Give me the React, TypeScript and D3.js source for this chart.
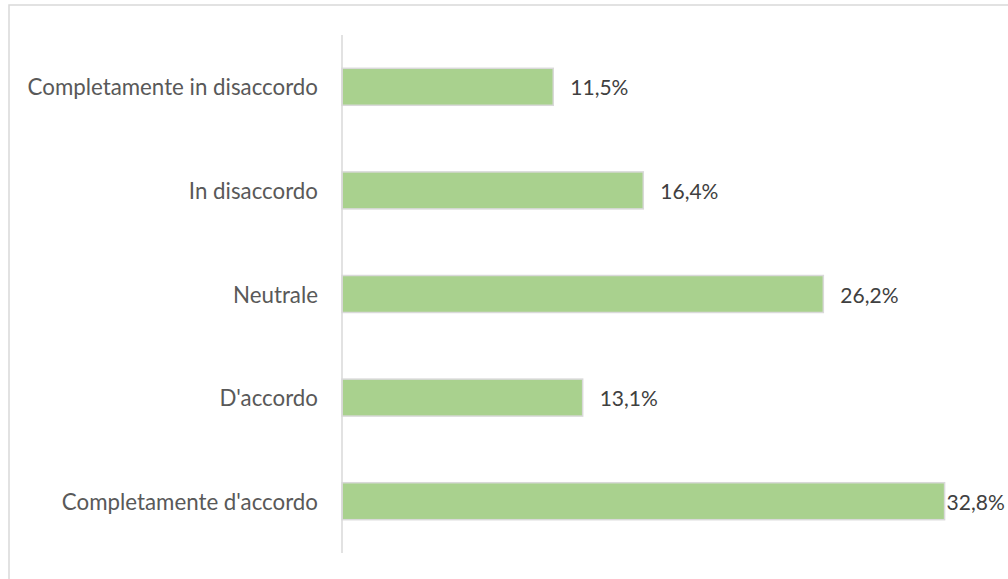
import React from "react";
import * as d3 from "d3";

const categories = [
  "Completamente in disaccordo",
  "In disaccordo",
  "Neutrale",
  "D'accordo",
  "Completamente d'accordo",
];
const values = [11.5, 16.4, 26.2, 13.1, 32.8];
const valueLabels = ["11,5%", "16,4%", "26,2%", "13,1%", "32,8%"];

const W = 1008;
const H = 579;
const axisX = 342;
const top = 35;
const bottom = 553;
const labelRightLimit = 1000;

export default function App() {
  const y = d3
    .scaleBand<string>()
    .domain(categories)
    .range([top, bottom])
    .paddingInner(0.643)
    .paddingOuter(0.3215);
  const x = d3.scaleLinear().domain([0, 35]).range([axisX, axisX + 643]);
  const font = "Lato, 'Open Sans', sans-serif";
  const valueFs = 21;
  const approxLabelW = 57;
  return (
    <svg
      width={W}
      height={H}
      style={{ position: "absolute", left: 0, top: 0, background: "#fff" }}
    >
      <rect x={9} y={5} width={1200} height={800} fill="#fff" stroke="#d9d9d9" strokeWidth={1.5} />
      {categories.map((c, i) => {
        const y0 = y(c)!;
        const bw = y.bandwidth();
        const lx = x(values[i]) + 17;
        const overflow = lx + approxLabelW > labelRightLimit;
        return (
          <g key={c}>
            <rect
              x={x(0)}
              y={y0}
              width={x(values[i]) - x(0)}
              height={bw}
              fill="#A9D18E"
              stroke="#d9d9d9"
              strokeWidth={1.5}
            />
            <text
              x={axisX - 24}
              y={y0 + bw / 2}
              textAnchor="end"
              dominantBaseline="central"
              fontFamily={font}
              fontSize={22.3}
              fill="#595959"
            >
              {c}
            </text>
            <text
              x={overflow ? x(values[i]) + 2 : lx}
              y={y0 + bw / 2}
              dominantBaseline="central"
              fontFamily={font}
              fontSize={valueFs}
              fill="#404040"
            >
              {valueLabels[i]}
            </text>
          </g>
        );
      })}
      <line x1={axisX} x2={axisX} y1={top} y2={bottom} stroke="#d9d9d9" strokeWidth={1.5} />
    </svg>
  );
}
